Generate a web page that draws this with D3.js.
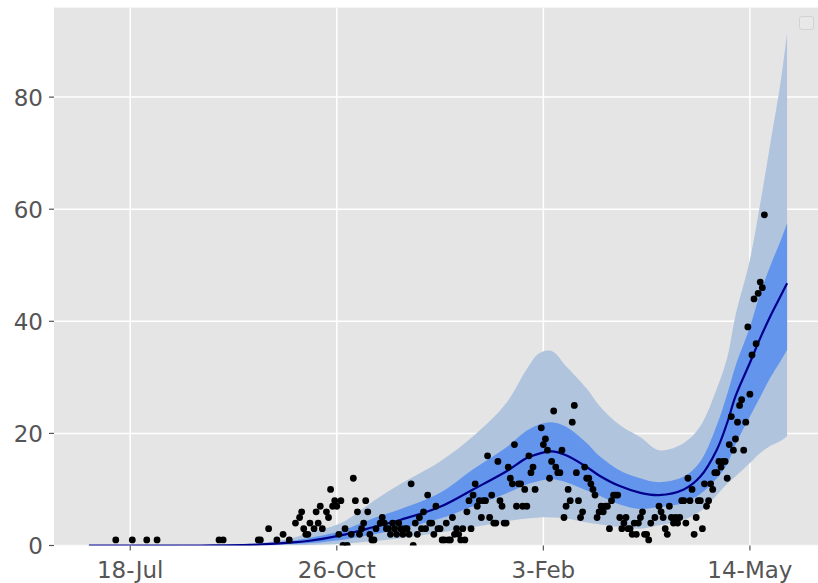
<!DOCTYPE html>
<html>
<head>
<meta charset="utf-8">
<script src="https://cdn.jsdelivr.net/npm/d3@7"></script>
<style>
  html, body { margin: 0; padding: 0; background: #ffffff; }
  svg { display: block; }
</style>
</head>
<body>
<svg id="chart" width="818" height="583"></svg>
<script>
// ---- data ----
const baseDate = "2020-07-18";           // day 0
const xTickDays = [0, 100, 200, 300];
const xTickLabels = ["18-Jul", "26-Oct", "3-Feb", "14-May"];
const yTicks = [0, 20, 40, 60, 80];

// model curve (day offsets from baseDate)
const modelDays = [-20, 34, 58, 77, 86, 102, 118, 131, 150, 166, 182, 192, 198, 204, 211, 221, 227, 237, 247, 256, 268, 276, 284, 289, 293, 300, 305, 310, 315, 318];
const median    = [0, 0, 0.1, 0.5, 0.8, 1.8, 3.3, 4.6, 6.9, 10.0, 13.2, 15.6, 16.4, 16.8, 16.1, 14.0, 12.5, 10.6, 9.4, 9.0, 10.0, 12.3, 17.1, 21.9, 26.6, 32.6, 37.0, 41.0, 44.6, 46.8];
const innerLo   = [0, 0, 0.02, 0.25, 0.4, 1.0, 2.0, 3.0, 4.8, 7.0, 9.3, 10.9, 11.5, 11.8, 11.3, 9.8, 8.9, 7.3, 6.5, 6.9, 7.6, 9.2, 12.0, 14.5, 18.0, 23.0, 26.5, 30.0, 33.0, 34.9];
const innerHi   = [0, 0, 0.2, 0.8, 1.3, 2.6, 4.9, 6.5, 9.4, 13.6, 17.5, 20.5, 21.6, 22.0, 21.2, 18.3, 16.0, 13.4, 12.0, 11.3, 12.3, 15.0, 21.5, 27.0, 32.0, 39.0, 45.0, 50.0, 54.5, 57.5];
const outerLo   = [0, 0, 0, 0.05, 0.1, 0.3, 0.8, 1.3, 2.3, 3.3, 4.3, 4.8, 5.0, 5.0, 4.8, 4.1, 3.8, 3.3, 3.0, 3.6, 4.6, 6.1, 9.0, 11.0, 12.3, 14.7, 16.5, 17.8, 18.7, 19.5];
const outerHi   = [0, 0.05, 0.3, 1.2, 2.2, 4.0, 8.0, 11.0, 15.0, 19.5, 25.4, 31.5, 34.3, 34.7, 32.0, 28.0, 25.0, 21.5, 19.3, 17.0, 18.3, 21.3, 28.0, 33.5, 41.0, 51.0, 61.0, 72.0, 83.0, 91.4];

// observed daily counts (day offsets from baseDate)
const obsDays = [
  -7, 1, 8, 13, 43, 45, 62, 63, 67, 71, 74, 77, 80, 82, 83, 84, 85, 86, 87, 89,
  90, 91, 92, 93, 95, 96, 97, 98, 99, 100, 101, 102, 103, 104, 105, 107, 108, 109, 110, 111,
  112, 113, 114, 115, 116, 117, 118, 119, 121,
  122, 123, 124, 125, 126, 127, 128, 129, 130, 131, 132, 133, 134, 135, 136, 137, 138, 139, 140, 141,
  142, 143, 144, 145, 146, 147, 148, 149, 150, 151, 152, 153, 154, 155, 156, 157, 158, 159, 160, 161,
  162, 163, 164, 165, 166, 167, 168, 169, 170, 171, 172, 173, 174, 175, 176, 177, 178, 179, 180, 181,
  182, 183, 184, 185, 186, 187, 188, 189, 190, 191, 192, 193, 194, 195, 196,
  199, 200, 201, 202, 203, 204, 205, 206, 207, 208, 209, 210, 211, 212, 213, 214, 215, 216, 217, 218,
  219, 220, 221, 222, 223, 224, 225, 226, 227, 228, 229, 230, 231, 232, 233, 234, 235, 236, 237, 238,
  239, 240, 241, 242, 243, 244, 245, 246, 247, 248, 249, 250, 251, 252, 254, 256,
  257, 258, 259, 260, 261, 262, 263, 264, 265, 266, 267, 268, 269, 270, 271, 272, 273, 274, 275, 276,
  277, 278, 279, 280, 281, 282, 283, 284, 285, 286, 287, 288, 289, 290, 291, 292, 293, 294, 295, 296,
  297, 298, 299, 300, 301, 302, 303, 304, 305, 306, 307
];
const obsCounts = [
  1, 1, 1, 1, 1, 1, 1, 1, 3, 1, 2, 1, 4, 5, 6, 3, 2, 2, 4, 3,
  6, 4, 7, 3, 6, 5, 10, 7, 8, 7, 2, 8, 0, 3, 0, 2, 12, 8, 6, 2,
  3, 4, 8, 6, 2, 1, 1, 3, 4,
  5, 4, 3, 3, 2, 4, 3, 2, 4, 3, 2, 3, 3, 2, 11, 0, 4, 2, 5, 3,
  6, 3, 9, 4, 4, 2, 7, 3, 3, 1, 1, 4, 1, 1, 5, 2, 3, 2, 1, 3,
  1, 6, 8, 3, 9, 11, 7, 8, 5, 8, 8, 16, 5, 9, 4, 4, 15, 8, 7, 4,
  4, 14, 12, 11, 18, 7, 11, 11, 7, 10, 7, 16, 13, 14, 10,
  21, 18, 19, 17, 12, 15, 24, 14, 13, 13, 17, 5, 7, 10, 8, 22, 25, 13, 8, 5,
  6, 14, 12, 12, 11, 10, 9, 5, 6, 7, 6, 7, 7, 3, 8, 9, 9, 9, 5, 3,
  4, 5, 3, 3, 2, 4, 2, 4, 5, 6, 2, 2, 1, 4, 5, 7,
  6, 5, 3, 2, 7, 5, 4, 5, 4, 5, 8, 8, 4, 12, 8, 10, 2, 5, 8, 8,
  3, 11, 7, 8, 11, 10, 13, 13, 15, 14, 15, 15, 12, 18, 23, 17, 19, 22, 25, 26,
  17, 22, 39, 27, 34, 44, 36, 45, 47, 46, 59
];

// ---- drawing ----
const plot = { left: 54, right: 822, top: 7.6, bottom: 545.5 };
const DAY = 864e5;
const base = new Date(baseDate + "T00:00:00Z").getTime();
const toDate = d => new Date(base + d * DAY);

const svg = d3.select("#chart");

const dMin = d3.min(modelDays), dMax = d3.max(modelDays);
const pad = (dMax - dMin) * 0.05;
const x = d3.scaleUtc()
  .domain([toDate(dMin - pad), toDate(dMax + pad)])
  .range([plot.left, plot.right]);
const yMax = d3.max(outerHi) * 1.05;
const y = d3.scaleLinear().domain([0, yMax]).range([plot.bottom, plot.top]);

svg.append("defs").append("clipPath").attr("id", "clip")
  .append("rect")
  .attr("x", plot.left).attr("y", plot.top)
  .attr("width", plot.right - plot.left).attr("height", plot.bottom - plot.top);

// background
svg.append("rect")
  .attr("x", plot.left).attr("y", plot.top)
  .attr("width", plot.right - plot.left).attr("height", plot.bottom - plot.top)
  .attr("fill", "#e5e5e5");

// grid
const gGrid = svg.append("g").attr("clip-path", "url(#clip)");
gGrid.selectAll("line.gx").data(xTickDays).join("line")
  .attr("x1", d => x(toDate(d))).attr("x2", d => x(toDate(d)))
  .attr("y1", plot.top).attr("y2", plot.bottom)
  .attr("stroke", "#ffffff").attr("stroke-width", 1.5);
gGrid.selectAll("line.gy").data(yTicks).join("line")
  .attr("x1", plot.left).attr("x2", plot.right)
  .attr("y1", d => y(d)).attr("y2", d => y(d))
  .attr("stroke", "#ffffff").attr("stroke-width", 1.5);

const model = modelDays.map((d, i) => ({
  date: toDate(d), m: median[i], il: innerLo[i], ih: innerHi[i], ol: outerLo[i], oh: outerHi[i]
}));

const gData = svg.append("g").attr("clip-path", "url(#clip)");
const curve = d3.curveCatmullRom.alpha(0.5);

gData.append("path").datum(model)
  .attr("d", d3.area().curve(curve).x(d => x(d.date)).y0(d => y(d.ol)).y1(d => y(d.oh)))
  .attr("fill", "#b0c4de");
gData.append("path").datum(model)
  .attr("d", d3.area().curve(curve).x(d => x(d.date)).y0(d => y(d.il)).y1(d => y(d.ih)))
  .attr("fill", "#6495ed");
gData.append("path").datum(model)
  .attr("d", d3.line().curve(curve).x(d => x(d.date)).y(d => y(d.m)))
  .attr("fill", "none").attr("stroke", "#00008b").attr("stroke-width", 2.2);

const obs = obsDays.map((d, i) => ({ date: toDate(d), v: obsCounts[i] }));
gData.selectAll("circle").data(obs).join("circle")
  .attr("cx", d => x(d.date)).attr("cy", d => y(d.v))
  .attr("r", 3.4).attr("fill", "#000000");

// axes
const font = "'DejaVu Sans', sans-serif";
const tickColor = "#555555";
const gx = svg.append("g");
xTickDays.forEach((d, i) => {
  const px = x(toDate(d));
  gx.append("line").attr("x1", px).attr("x2", px)
    .attr("y1", plot.bottom).attr("y2", plot.bottom + 5)
    .attr("stroke", tickColor).attr("stroke-width", 1.2);
  gx.append("text").attr("x", px).attr("y", plot.bottom + 32.5)
    .attr("text-anchor", "middle").attr("font-family", font).attr("font-size", 23)
    .attr("fill", tickColor).text(xTickLabels[i]);
});
const gy = svg.append("g");
yTicks.forEach(v => {
  const py = y(v);
  gy.append("line").attr("x1", plot.left - 5).attr("x2", plot.left)
    .attr("y1", py).attr("y2", py)
    .attr("stroke", tickColor).attr("stroke-width", 1.2);
  gy.append("text").attr("x", plot.left - 11).attr("y", py + 8.4)
    .attr("text-anchor", "end").attr("font-family", font).attr("font-size", 23)
    .attr("fill", tickColor).text(v);
});

// empty legend box
svg.append("rect")
  .attr("x", 799.5).attr("y", 16.5).attr("width", 14).attr("height", 13).attr("rx", 2.5)
  .attr("fill", "#e8e8e8").attr("stroke", "#d2d2d2").attr("stroke-width", 1);
</script>
</body>
</html>
